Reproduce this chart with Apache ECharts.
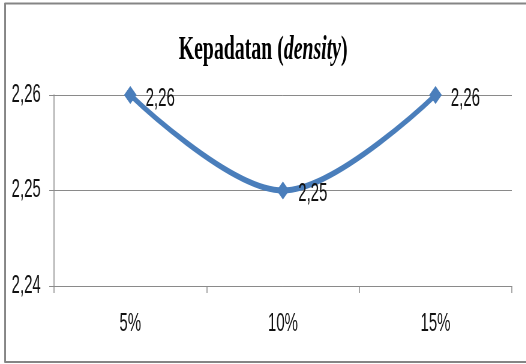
<!DOCTYPE html>
<html>
<head>
<meta charset="utf-8">
<script src="https://cdn.jsdelivr.net/npm/echarts@6/dist/echarts.min.js"></script>
<style>
  html, body { margin: 0; padding: 0; background: #fff; overflow: hidden; }
  /* Chart is laid out wide, then condensed horizontally */
  #chart { width: 877px; height: 364px; transform: scaleX(0.6); transform-origin: 0 0; }
</style>
</head>
<body>
<div id="chart"></div>
<script>
const categories = ['5%', '10%', '15%'];
const densityValues = [2.26, 2.25, 2.26];
const yMin = 2.24;
const yMax = 2.26;
const yStep = 0.01;

const labelFont = "'Liberation Sans', Arial, sans-serif";
const serifFont = "'Liberation Serif', 'Times New Roman', serif";
const fmt = v => Number(v).toFixed(2).replace('.', ',');

const chart = echarts.init(document.getElementById('chart'));
chart.setOption({
  animation: false,
  graphic: [
    {
      type: 'rect',
      shape: { x: 8.5, y: 3.5, width: 1000, height: 358.5 },
      style: { fill: 'none', stroke: '#858585', lineWidth: 2 },
      silent: true
    },
    {
      type: 'line',
      shape: { x1: 8.5, y1: 3, x2: 8.5, y2: 362.5 },
      style: { stroke: '#858585', lineWidth: 3 },
      silent: true
    }
  ],
  title: {
    text: '{b|Kepadatan (}{i|density}{b|)}',
    left: 'center',
    top: 29,
    textStyle: {
      rich: {
        b: { fontFamily: serifFont, fontWeight: 'bold', fontSize: 33, color: '#000' },
        i: { fontFamily: serifFont, fontWeight: 'bold', fontStyle: 'italic', fontSize: 33, color: '#000' }
      }
    }
  },
  grid: { left: 90, right: 24, top: 95, bottom: 78 },
  xAxis: {
    type: 'category',
    data: categories,
    boundaryGap: true,
    axisLine: { lineStyle: { color: '#8a8a8a', width: 1 } },
    axisTick: { show: true, length: 7, lineStyle: { color: '#8a8a8a', width: 1.5 } },
    axisLabel: { fontFamily: labelFont, fontSize: 25, color: '#111', margin: 26 }
  },
  yAxis: {
    type: 'value',
    min: yMin,
    max: yMax,
    interval: yStep,
    axisLine: { show: true, lineStyle: { color: '#8a8a8a', width: 1.5 } },
    axisTick: { show: true, length: 8, lineStyle: { color: '#8a8a8a' } },
    splitLine: { lineStyle: { color: '#8a8a8a', width: 1 } },
    axisLabel: { fontFamily: labelFont, fontSize: 25, color: '#111', margin: 22, formatter: fmt }
  },
  series: [{
    type: 'line',
    data: densityValues,
    smooth: 0.35,
    symbol: 'diamond',
    symbolSize: [21, 18],
    lineStyle: { color: '#4a7ebb', width: 6 },
    itemStyle: { color: '#4a7ebb' },
    label: {
      show: true,
      position: 'right',
      distance: 15,
      offset: [0, 4],
      fontFamily: labelFont,
      fontSize: 25,
      color: '#111',
      formatter: p => fmt(p.value)
    }
  }]
});
</script>
</body>
</html>
